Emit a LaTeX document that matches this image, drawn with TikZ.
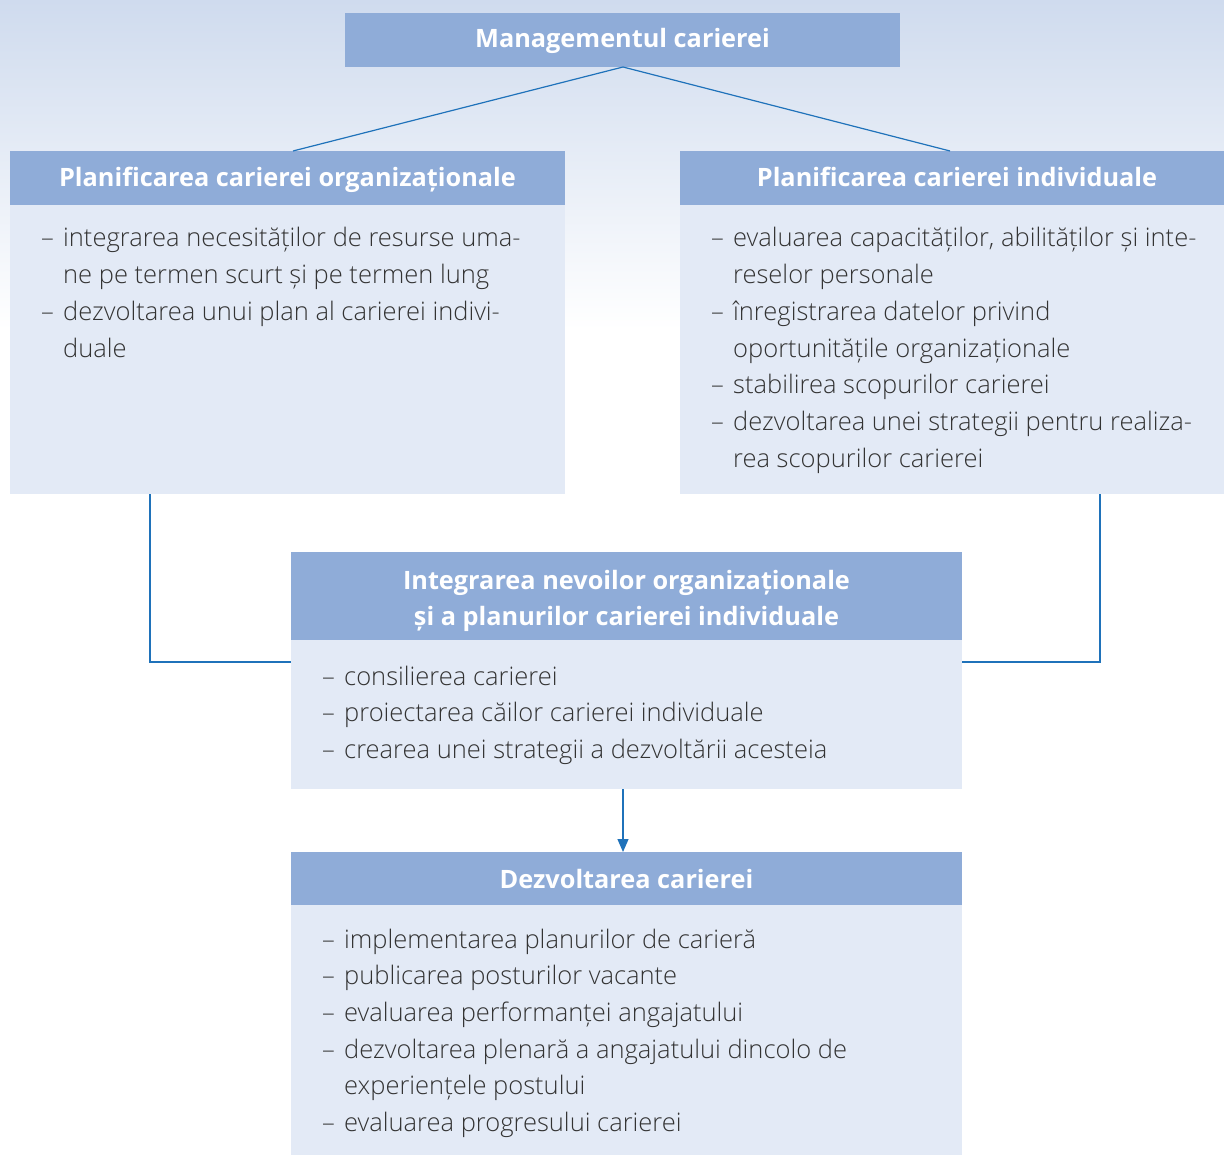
\documentclass[tikz,border=0pt]{standalone}
\usepackage{fontspec}
\setmainfont{Open Sans}
\newfontfamily\lightfont{Open Sans Light}
\usetikzlibrary{arrows.meta}
\definecolor{hdr}{HTML}{8FACD8}
\definecolor{bdy}{HTML}{E3EAF6}
\definecolor{lnc}{HTML}{1F72BA}
\definecolor{txt}{HTML}{333333}
\definecolor{bgtop}{HTML}{CFDBEE}
\newcommand{\dsh}{\makebox[22pt][l]{–}}
\newcommand{\ind}{\hspace*{22pt}}
\tikzset{
  hdrbox/.style={fill=hdr, draw=none},
  bdybox/.style={fill=bdy, draw=none},
  hdrtext/.style={text=white, font=\fontsize{25.3pt}{36pt}\selectfont\bfseries, inner sep=0pt, anchor=base},
  bodytext/.style={text=txt, font=\fontsize{25.5pt}{36.7pt}\lightfont, inner sep=0pt, anchor=base west},
  conn/.style={draw=lnc, line width=1.2pt},
}
\begin{document}
\begin{tikzpicture}[x=1pt,y=-1pt]
\useasboundingbox (0,0) rectangle (1224,1155);
\shade[top color=bgtop, bottom color=white] (0,0) rectangle (1224,330);
% top
\fill[hdrbox] (345,13) rectangle (900,67);
\node[hdrtext] (top) at (622.5,48) {Managementul carierei};
\coordinate (topb) at (623,67);
% left
\fill[bdybox] (10,205) rectangle (565,494);
\fill[hdrbox] (10,151) rectangle (565,205);
\node[hdrtext] (lh) at (287.5,187) {Planificarea carierei organizaționale};
\coordinate (lt) at (293,151);
\coordinate (lb) at (150,494);
\foreach \t [count=\i] in {{\dsh integrarea necesităților de resurse uma-},{\ind ne pe termen scurt și pe termen lung},{\dsh dezvoltarea unui plan al carierei indivi-},{\ind duale}}
  \node[bodytext] (lbody\i) at (41,{247+(\i-1)*36.7}) {\t};
% right
\fill[bdybox] (680,205) rectangle (1224,494);
\fill[hdrbox] (680,151) rectangle (1224,205);
\node[hdrtext] (rh) at (957,187) {Planificarea carierei individuale};
\coordinate (rt) at (950,151);
\coordinate (rb) at (1100,494);
\foreach \t [count=\i] in {{\dsh evaluarea capacităților, abilităților și inte-},{\ind reselor personale},{\dsh înregistrarea datelor privind},{\ind oportunitățile organizaționale},{\dsh stabilirea scopurilor carierei},{\dsh dezvoltarea unei strategii pentru realiza-},{\ind rea scopurilor carierei}}
  \node[bodytext] (rbody\i) at (711,{247+(\i-1)*36.7}) {\t};
% middle
\fill[bdybox] (291,640) rectangle (962,789);
\fill[hdrbox] (291,552) rectangle (962,640);
\node[hdrtext] (mh1) at (626.5,589) {Integrarea nevoilor organizaționale};
\node[hdrtext] (mh2) at (626.5,625) {și a planurilor carierei individuale};
\coordinate (ml) at (291,662);
\coordinate (mr) at (962,662);
\coordinate (mb) at (623,789);
\foreach \t [count=\i] in {{\dsh consilierea carierei},{\dsh proiectarea căilor carierei individuale},{\dsh crearea unei strategii a dezvoltării acesteia}}
  \node[bodytext] (mbody\i) at (322,{685+(\i-1)*36.7}) {\t};
% bottom
\fill[bdybox] (291,905) rectangle (962,1155);
\fill[hdrbox] (291,852) rectangle (962,905);
\node[hdrtext] (bh) at (626.5,888) {Dezvoltarea carierei};
\coordinate (bt) at (623,852);
\foreach \t [count=\i] in {{\dsh implementarea planurilor de carieră},{\dsh publicarea posturilor vacante},{\dsh evaluarea performanței angajatului},{\dsh dezvoltarea plenară a angajatului dincolo de},{\ind experiențele postului},{\dsh evaluarea progresului carierei}}
  \node[bodytext] (bbody\i) at (322,{948+(\i-1)*36.7}) {\t};
% connectors
\draw[conn] (topb) -- (lt);
\draw[conn] (topb) -- (rt);
\draw[conn] (lb) |- (ml);
\draw[conn] (rb) |- (mr);
\draw[conn, -{Triangle[length=13pt,width=11pt]}] (mb) -- (bt);
\end{tikzpicture}
\end{document}
